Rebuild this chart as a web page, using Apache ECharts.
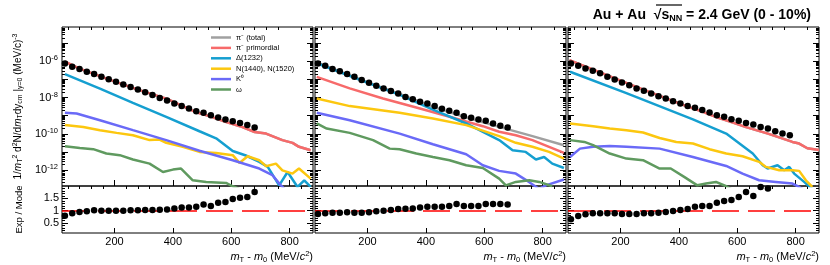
<!DOCTYPE html>
<html><head><meta charset="utf-8">
<script src="https://cdn.jsdelivr.net/npm/echarts@6/dist/echarts.min.js"></script>
<style>html,body{margin:0;padding:0;background:#fff}#c{width:830px;height:265px}</style>
</head><body><div id="c"></div>
<script>
// ---------------- DATA ----------------
const xTickLabels = [200, 400, 600, 800];
const logTickLabels = [1e-12, 1e-10, 1e-8, 1e-6];
const ratioTickLabels = [0.5, 1, 1.5];
const modelNames = ['π⁻ (total)', 'π⁻ primordial', 'Δ(1232)', 'N(1440), N(1520)', 'K⁰', 'ω'];

// experimental points: mT - m0 (MeV) and log10 of yield
const p1_expX = [30,55,80,105,130,155,180,205,230,255,280,305,330,355,380,405,430,455,480,505,530,555,580,605,630,655,680];
const p1_expLog = [-6.11,-6.30,-6.42,-6.57,-6.70,-6.85,-6.99,-7.13,-7.27,-7.42,-7.55,-7.71,-7.86,-8.02,-8.16,-8.32,-8.47,-8.60,-8.75,-8.84,-8.97,-9.10,-9.21,-9.30,-9.40,-9.52,-9.65];
const p1_ratio = [0.80,0.895,0.95,0.975,1.015,1.0,1.0,1.0,1.0,1.015,1.015,1.03,1.03,1.04,1.055,1.095,1.135,1.135,1.16,1.255,1.19,1.32,1.35,1.47,1.52,1.56,1.76];

const p2_expX = [30,55,80,105,130,155,180,205,230,255,280,305,330,355,380,405,430,455,480,505,530,555,580,605,630,655,680];
const p2_expLog = [-6.11,-6.24,-6.42,-6.54,-6.70,-6.85,-7.03,-7.18,-7.35,-7.49,-7.64,-7.77,-7.96,-8.09,-8.23,-8.33,-8.47,-8.62,-8.73,-8.84,-9.03,-9.12,-9.21,-9.28,-9.43,-9.56,-9.65];
const p2_ratio = [0.868,0.895,0.92,0.92,0.935,0.92,0.92,0.935,0.975,1.0,1.03,1.07,1.08,1.095,1.135,1.16,1.16,1.16,1.19,1.27,1.19,1.19,1.19,1.27,1.27,1.27,1.255];

const p3_expX = [30,55,80,105,130,155,180,205,230,255,280,305,330,355,380,405,430,455,480,505,530,555,580,605,630,655,680,705,730,755,780];
const p3_expLog = [-6.11,-6.24,-6.39,-6.52,-6.66,-6.85,-7.00,-7.16,-7.31,-7.49,-7.62,-7.77,-7.92,-8.05,-8.20,-8.33,-8.47,-8.56,-8.69,-8.82,-8.97,-9.06,-9.19,-9.28,-9.40,-9.49,-9.62,-9.71,-9.86,-9.99,-10.08];
const p3_ratio = [0.655,0.79,0.855,0.895,0.895,0.895,0.895,0.868,0.868,0.868,0.895,0.895,0.92,0.948,0.988,1.03,1.07,1.16,1.19,1.19,1.32,1.39,1.43,1.56,1.76,1.60,1.96,1.895];

// model curves: [mT - m0 (MeV), log10 yield]
const p1_total = [[30,-6.01],[80,-6.40],[180,-6.99],[280,-7.56],[380,-8.07],[480,-8.81],[530,-9.05],[580,-9.34],[630,-9.58],[680,-9.90],[719,-9.99],[775,-10.35],[810,-10.5],[832,-10.72],[872,-10.91]];
const p1_primordial = [[30,-6.01],[80,-6.40],[180,-6.99],[280,-7.56],[380,-8.07],[480,-8.81],[530,-9.05],[580,-9.34],[630,-9.58],[680,-9.90],[719,-9.99],[775,-10.35],[810,-10.5],[832,-10.72],[872,-10.91]];
const p1_delta = [[30,-6.70],[150,-7.50],[263,-8.29],[377,-9.06],[491,-9.86],[548,-10.25],[605,-10.95],[650,-11.2],[696,-11.55],[725,-11.83],[764,-12.85],[793,-12.11],[827,-12.94],[850,-12.57],[872,-12.94]];
const p1_nstar = [[30,-9.52],[93,-9.62],[150,-9.80],[207,-9.95],[263,-10.08],[320,-10.35],[354,-10.32],[377,-10.50],[434,-10.72],[491,-11.0],[548,-11.06],[605,-11.18],[628,-11.61],[656,-11.24],[696,-11.46],[719,-11.79],[753,-11.65],[775,-12.02],[810,-12.2],[832,-11.92],[872,-12.48]];
const p1_k0 = [[30,-8.84],[70,-8.88],[150,-9.25],[263,-9.80],[377,-10.35],[491,-10.94],[605,-11.46],[696,-11.92],[741,-12.29],[770,-12.85],[787,-13.12]];
const p1_omega = [[30,-10.69],[81,-10.78],[127,-10.85],[172,-11.09],[218,-11.18],[263,-11.42],[320,-11.65],[366,-12.11],[400,-11.98],[428,-11.92],[468,-12.57],[514,-12.66],[582,-12.72],[605,-12.9],[628,-13.05]];

const p2_total = [[26,-6.06],[196,-7.13],[310,-7.80],[424,-8.51],[538,-9.10],[651,-9.62],[765,-10.13],[873,-10.63]];
const p2_primordial = [[26,-6.85],[139,-7.49],[253,-8.05],[367,-8.55],[481,-9.06],[595,-9.58],[651,-9.89],[708,-10.08],[765,-10.35],[822,-10.72],[873,-11.06]];
const p2_delta = [[26,-6.10],[196,-7.15],[310,-7.85],[424,-8.66],[538,-9.43],[651,-10.35],[697,-10.91],[742,-11.0],[777,-11.42],[805,-11.28],[833,-11.65],[873,-11.89]];
const p2_nstar = [[26,-8.05],[139,-8.47],[310,-8.84],[424,-9.16],[538,-9.52],[651,-10.13],[708,-10.50],[765,-10.72],[822,-11.0],[873,-11.37]];
const p2_k0 = [[26,-8.84],[139,-9.25],[310,-9.99],[424,-10.58],[538,-11.13],[595,-11.74],[651,-12.05],[708,-12.2],[753,-12.66],[788,-13.05],[811,-12.85],[873,-12.53]];
const p2_omega = [[26,-9.43],[60,-9.71],[139,-9.95],[219,-10.35],[276,-10.82],[310,-10.85],[367,-11.09],[424,-11.28],[481,-11.46],[538,-11.74],[595,-11.89],[651,-12.48],[674,-12.85],[708,-12.66],[754,-12.57],[788,-12.66],[833,-12.9]];

const p3_total = [[25,-5.93],[130,-6.61],[230,-7.25],[330,-7.88],[430,-8.50],[480,-8.77],[530,-9.09],[580,-9.35],[630,-9.63],[705,-9.99],[789,-10.45],[812,-10.54],[840,-10.8],[880,-10.9]];
const p3_primordial = [[25,-5.93],[130,-6.61],[230,-7.25],[330,-7.88],[430,-8.50],[480,-8.77],[530,-9.09],[580,-9.35],[630,-9.63],[705,-9.99],[789,-10.45],[812,-10.54],[840,-10.8],[880,-10.9]];
const p3_delta = [[27,-6.57],[220,-7.75],[448,-9.20],[562,-9.99],[653,-11.09],[687,-11.74],[704,-11.92],[738,-11.74],[761,-12.02],[778,-11.83],[795,-12.2],[829,-12.66],[846,-12.9],[869,-13.2]];
const p3_nstar = [[27,-9.43],[106,-9.58],[163,-9.71],[220,-9.80],[277,-9.93],[334,-10.23],[391,-10.45],[448,-10.54],[505,-10.85],[562,-11.09],[618,-11.24],[675,-11.55],[698,-11.83],[744,-12.02],[789,-12.02],[812,-12.05],[835,-12.57],[857,-12.94]];
const p3_k0 = [[27,-11.28],[61,-10.82],[106,-10.72],[163,-10.67],[220,-10.72],[334,-10.82],[448,-11.28],[562,-11.78],[618,-12.2],[675,-12.57],[732,-12.66],[789,-12.75],[812,-12.94],[830,-13.1]];
const p3_omega = [[27,-10.35],[76,-10.45],[106,-10.63],[163,-11.09],[220,-11.37],[277,-11.46],[334,-11.92],[372,-11.92],[418,-12.38],[463,-12.85],[493,-12.75],[527,-12.66],[562,-12.9],[584,-13.1]];

// ---------------- STYLE / LAYOUT ----------------
const FF = 'Liberation Sans, Arial, Helvetica, sans-serif';
const colors = ['#a0a0a0', '#f76a6a', '#159fd0', '#fcc70f', '#6a6af7', '#5f9a5f'];
const X_MIN = 20, X_MAX = 880;
const Y_MIN = 1.3e-13, Y_MAX = 8e-5;
const R_MIN = 0.1, R_MAX = 2.0;
const lefts = [62, 315, 568], GW = 251;
const UT = 27, UH = 159, LT = 186, LH = 47;

const xMajor = [200, 400, 600, 800];
const xMinor = []; for (let v = 40; v < X_MAX; v += 40) if (v % 200 !== 0) xMinor.push(v);
const logMajor = []; for (let e = -12; e <= -5; e++) logMajor.push(Math.pow(10, e));
const logMinor = []; for (let e = -13; e <= -5; e++) for (let k = 2; k <= 9; k++) { const v = k * Math.pow(10, e); if (v > Y_MIN && v < Y_MAX) logMinor.push(v); }
const rMajor = [0.5, 1, 1.5];
const rMinor = []; for (let i = 2; i <= 19; i++) if (i % 5 !== 0) rMinor.push(i / 10);

const supsub = {
  i: { fontStyle: 'italic', fontSize: 11, fontFamily: FF, color: '#000' },
  s: { fontSize: 7.5, fontFamily: FF, color: '#000', padding: [6, 0, 0, 0] },
  p: { fontSize: 7.5, fontFamily: FF, color: '#000', padding: [0, 0, 6, 0] }
};

const grids = [];
lefts.forEach(l => grids.push({ left: l, top: UT, width: GW, height: UH, show: true, borderColor: '#000', borderWidth: 1 }));
lefts.forEach(l => grids.push({ left: l, top: LT, width: GW, height: LH, show: true, borderColor: '#000', borderWidth: 1 }));

const xAxes = [], yAxes = [];
for (let g = 0; g < 6; g++) {
  const lower = g >= 3;
  const base = { type: 'value', gridIndex: g, min: X_MIN, max: X_MAX, splitLine: { show: false }, axisLine: { show: false } };
  const main = Object.assign({}, base, {
    axisTick: { show: true, inside: true, length: lower ? 5 : 6, customValues: xMajor, lineStyle: { color: '#000' } },
    axisLabel: { show: lower, customValues: xTickLabels, fontSize: 11, fontFamily: FF, color: '#000', margin: 3 }
  });
  if (lower) {
    main.name = '{i|m}{s|T} - {i|m}{s|0} (MeV/{i|c}{p|2})';
    main.nameLocation = 'end';
    main.nameGap = 0;
    main.nameTextStyle = { fontSize: 11, fontFamily: FF, color: '#000', align: 'right', verticalAlign: 'top', padding: [17, 0, 0, 0], rich: supsub };
  }
  xAxes.push(main);
  xAxes.push(Object.assign({}, base, {
    axisTick: { show: true, inside: true, length: 3, customValues: xMinor, lineStyle: { color: '#000' } },
    axisLabel: { show: false }
  }));

  const yb = lower
    ? { type: 'value', gridIndex: g, min: R_MIN, max: R_MAX, splitLine: { show: false }, axisLine: { show: false } }
    : { type: 'log', gridIndex: g, min: Y_MIN, max: Y_MAX, splitLine: { show: false }, axisLine: { show: false } };
  const maj = lower ? rMajor : logMajor, mnr = lower ? rMinor : logMinor;
  const first = (g === 0 || g === 3);
  const yMain = Object.assign({}, yb, {
    position: 'left',
    axisTick: { show: true, inside: true, length: 6, customValues: maj, lineStyle: { color: '#000' } },
    axisLabel: first ? (lower
      ? { show: true, customValues: ratioTickLabels, fontSize: 11, fontFamily: FF, color: '#000', margin: 3, formatter: v => String(v) }
      : { show: true, customValues: logTickLabels, margin: 4, fontSize: 11, fontFamily: FF, color: '#000',
          formatter: v => '10{p|-' + Math.abs(Math.round(Math.log10(v))) + '}', rich: supsub })
      : { show: false }
  });
  if (first) {
    yMain.nameLocation = 'middle';
    yMain.nameRotate = 90;
    if (lower) {
      yMain.name = 'Exp / Mode';
      yMain.nameGap = 38;
      yMain.nameTextStyle = { fontSize: 9.5, fontFamily: FF, color: '#000' };
    } else {
      yMain.name = '1/{i|m}{s|T}{p|2} d{p|2}N/d{i|m}{s|T}dy{s|cm} |{s|y=0} (MeV/c){p|-3}';
      yMain.nameGap = 38;
      yMain.nameTextStyle = { fontSize: 10, fontFamily: FF, color: '#000', rich: {
        i: { fontStyle: 'italic', fontSize: 10, fontFamily: FF, color: '#000' },
        s: { fontSize: 7, fontFamily: FF, color: '#000', padding: [5, 0, 0, 0] },
        p: { fontSize: 7, fontFamily: FF, color: '#000', padding: [0, 0, 5, 0] } } };
    }
  }
  yAxes.push(yMain);
  yAxes.push(Object.assign({}, yb, { position: 'left', axisTick: { show: true, inside: true, length: 3, customValues: mnr, lineStyle: { color: '#000' } }, axisLabel: { show: false } }));
  yAxes.push(Object.assign({}, yb, { position: 'right', axisTick: { show: true, inside: true, length: 6, customValues: maj, lineStyle: { color: '#000' } }, axisLabel: { show: false } }));
  yAxes.push(Object.assign({}, yb, { position: 'right', axisTick: { show: true, inside: true, length: 3, customValues: mnr, lineStyle: { color: '#000' } }, axisLabel: { show: false } }));
}

const toVal = arr => arr.map(p => [p[0], Math.pow(10, p[1])]);
const panels = [
  { models: [p1_total, p1_primordial, p1_delta, p1_nstar, p1_k0, p1_omega], ex: p1_expX, el: p1_expLog, r: p1_ratio },
  { models: [p2_total, p2_primordial, p2_delta, p2_nstar, p2_k0, p2_omega], ex: p2_expX, el: p2_expLog, r: p2_ratio },
  { models: [p3_total, p3_primordial, p3_delta, p3_nstar, p3_k0, p3_omega], ex: p3_expX, el: p3_expLog, r: p3_ratio }
];
const series = [];
panels.forEach((P, p) => {
  P.models.forEach((m, i) => {
    series.push({ type: 'line', name: modelNames[i], xAxisIndex: p * 2, yAxisIndex: p * 4, data: toVal(m),
      showSymbol: false, symbol: 'none', smooth: false, silent: true, clip: true, z: 2,
      lineStyle: { width: 2.5, color: colors[i] }, itemStyle: { color: colors[i] } });
  });
  series.push({ type: 'scatter', xAxisIndex: p * 2, yAxisIndex: p * 4, symbolSize: 6.5, silent: true, z: 10,
    itemStyle: { color: '#000', opacity: 1 }, data: P.ex.map((x, k) => [x, Math.pow(10, P.el[k])]) });
  series.push({ type: 'scatter', xAxisIndex: (3 + p) * 2, yAxisIndex: (3 + p) * 4, symbolSize: 6.5, silent: true, z: 10,
    itemStyle: { color: '#000', opacity: 1 }, data: P.r.map((v, k) => [P.ex[k], v]),
    markLine: { silent: true, symbol: 'none', z: 3, label: { show: false }, animation: false,
      lineStyle: { color: '#ff0000', type: [27, 9], width: 1.5, opacity: 1 }, data: [{ yAxis: 1 }] } });
});

const chart = echarts.init(document.getElementById('c'), null, { renderer: 'canvas' });
chart.setOption({
  animation: false,
  backgroundColor: '#fff',
  title: {
    text: '{b|Au + Au  }{r|√}{b|s}{n|NN}{b| = 2.4 GeV (0 - 10%)}',
    right: 14, top: 2,
    textStyle: { rich: {
      b: { fontSize: 14, fontWeight: 'bold', fontFamily: FF, color: '#000' },
      r: { fontSize: 14, fontFamily: FF, color: '#000' },
      n: { fontSize: 9, fontWeight: 'bold', fontFamily: FF, color: '#000', padding: [7, 0, 0, 0] } } }
  },
  graphic: [{ type: 'line', shape: { x1: 656, y1: 5, x2: 682, y2: 5 }, style: { stroke: '#000', lineWidth: 1.2 }, silent: true }],
  legend: {
    left: 206, top: 28, orient: 'vertical', icon: 'rect', itemWidth: 20, itemHeight: 2.5, itemGap: 1.4,
    selectedMode: false, data: modelNames,
    textStyle: { fontSize: 7.5, lineHeight: 9, fontFamily: FF, color: '#000' }
  },
  grid: grids, xAxis: xAxes, yAxis: yAxes, series: series
});
</script>
</body></html>
